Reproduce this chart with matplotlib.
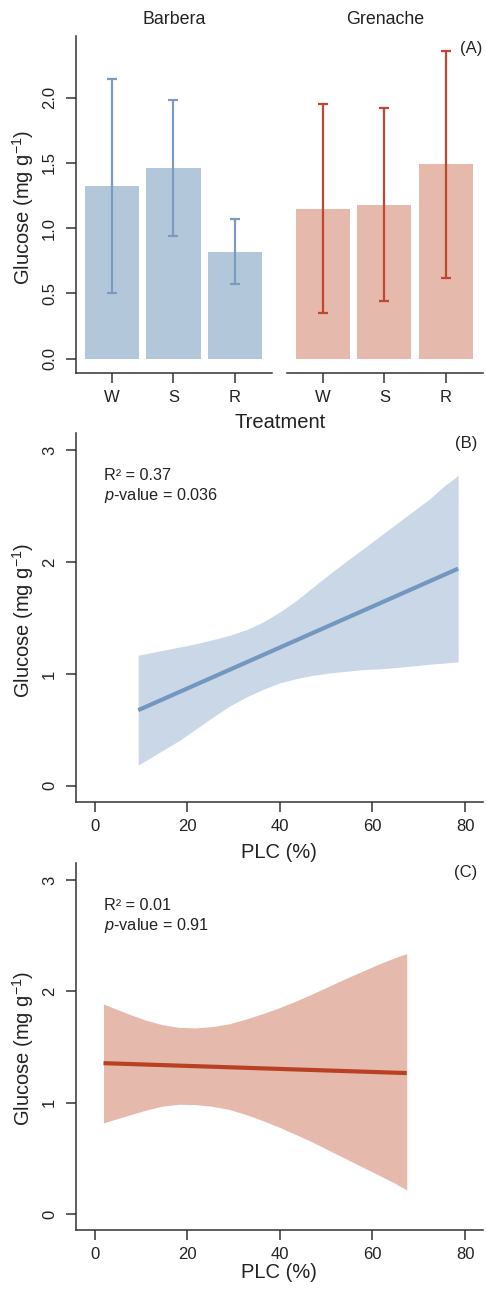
import matplotlib
matplotlib.use("Agg")
import matplotlib.pyplot as plt

plt.rcParams['font.family'] = ['Liberation Sans', 'DejaVu Sans']
plt.rcParams['mathtext.fontset'] = 'custom'
plt.rcParams['mathtext.rm'] = 'Liberation Sans'
plt.rcParams['mathtext.it'] = 'Liberation Sans:italic'

# ---------------- data ----------------
treatments = ["W", "S", "R"]
cultivars = ["Barbera", "Grenache"]
barbera_mean = [1.32, 1.46, 0.82]
barbera_err = [0.82, 0.52, 0.25]
grenache_mean = [1.15, 1.18, 1.49]
grenache_err = [0.80, 0.74, 0.87]

# panel B (Barbera): fitted line and confidence band
b_line_plc = [9.4, 78.5]
b_line_glu = [0.676, 1.941]
b_band_plc = [9.4, 14.8, 18.4, 22.0, 25.6, 29.2, 32.8, 36.4, 40.0, 43.6, 47.2,
              50.8, 54.4, 58.0, 61.6, 65.2, 68.8, 72.4, 75.5, 78.5]
b_band_upper = [1.167, 1.212, 1.241, 1.271, 1.307, 1.346, 1.396, 1.465, 1.554, 1.658, 1.777,
                1.896, 2.009, 2.119, 2.231, 2.343, 2.455, 2.566, 2.680, 2.774]
b_band_lower = [0.185, 0.319, 0.408, 0.512, 0.616, 0.714, 0.795, 0.863, 0.920, 0.959, 0.988,
                1.009, 1.024, 1.039, 1.046, 1.057, 1.072, 1.087, 1.097, 1.107]
b_stats = ["R\u00b2 = 0.37", "$\\mathit{p}$-value = 0.036"]

# panel C (Grenache)
c_line_plc = [1.9, 67.4]
c_line_glu = [1.356, 1.267]
c_band_plc = [1.9, 7.3, 10.9, 14.5, 18.1, 21.7, 25.3, 28.9, 32.5, 36.1, 39.7,
              43.3, 46.9, 50.5, 54.1, 57.7, 61.3, 64.9, 67.4]
c_band_upper = [1.887, 1.798, 1.744, 1.702, 1.678, 1.672, 1.684, 1.708, 1.750, 1.798, 1.851,
                1.911, 1.976, 2.045, 2.114, 2.179, 2.245, 2.304, 2.340]
c_band_lower = [0.820, 0.888, 0.933, 0.969, 0.987, 0.984, 0.969, 0.942, 0.897, 0.843, 0.784,
                0.718, 0.650, 0.575, 0.501, 0.426, 0.352, 0.277, 0.217]
c_stats = ["R\u00b2 = 0.01", "$\\mathit{p}$-value = 0.91"]

bar_yticks = [0.0, 0.5, 1.0, 1.5, 2.0]
reg_yticks = [0, 1, 2, 3]
reg_xticks = [0, 20, 40, 60, 80]

# ---------------- style ----------------
W, H = 486, 1292
BLUE_BAR = "#b3c7da"
BLUE_ERR = "#7a9cc0"
BLUE_BAND = "#c9d7e6"
BLUE_LINE = "#7298c0"
RED_BAR = "#e5b9ab"
RED_ERR = "#c0472d"
RED_BAND = "#e5b9ac"
RED_LINE = "#b94022"
AX_COL = "#333333"
TXT = "#222222"

fig = plt.figure(figsize=(W / 100, H / 100), dpi=100)


def box(x0, y0, x1, y1):
    return [x0 / W, 1 - y1 / H, (x1 - x0) / W, (y1 - y0) / H]


def style_axes(ax, left=True):
    for s in ["top", "right"]:
        ax.spines[s].set_visible(False)
    ax.spines["bottom"].set_color(AX_COL)
    ax.spines["bottom"].set_linewidth(1.1)
    if left:
        ax.spines["left"].set_color(AX_COL)
        ax.spines["left"].set_linewidth(1.1)
    else:
        ax.spines["left"].set_visible(False)
    ax.tick_params(direction="out", length=7.5, width=1.1, color=AX_COL,
                   labelcolor=TXT, labelsize=12)


# ---------------- panel A ----------------
pos = [1, 2, 3]
ylimA = (-0.112, 2.473)
xlimA = (0.415, 3.597)
axA1 = fig.add_axes(box(76, 36, 271.7, 373.3))
axA2 = fig.add_axes(box(286.7, 36, 482.7, 373.3))
for ax, means, errs, bc, ec, name in [
    (axA1, barbera_mean, barbera_err, BLUE_BAR, BLUE_ERR, cultivars[0]),
    (axA2, grenache_mean, grenache_err, RED_BAR, RED_ERR, cultivars[1]),
]:
    ax.bar(pos, means, width=0.88, color=bc, edgecolor="none", zorder=1)
    ax.errorbar(pos, means, yerr=errs, fmt="none", ecolor=ec, elinewidth=1.6,
                capsize=3.5, capthick=1.6, zorder=2)
    ax.set_xlim(*xlimA)
    ax.set_ylim(*ylimA)
    ax.set_xticks(pos)
    ax.set_xticklabels(treatments)
    ax.set_title(name, fontsize=12.8, color=TXT, pad=8.4)

style_axes(axA1, left=True)
style_axes(axA2, left=False)
axA1.tick_params(axis="x", pad=4.5)
axA2.tick_params(axis="x", pad=4.5)
axA1.set_yticks(bar_yticks)
axA1.set_yticklabels([f"{v:.1f}" for v in bar_yticks], rotation=90, ha="center", va="center")
axA1.tick_params(axis="y", pad=11.5)
axA2.set_yticks([])
axA2.text(1.0, ylimA[1] - 0.035, "(A)", ha="right", va="top", fontsize=12, color=TXT,
          transform=axA2.get_yaxis_transform())

fig.text(280 / W, 1 - 423 / H, "Treatment", ha="center", va="center", fontsize=14.5, color=TXT)
fig.text(23.5 / W, 1 - 207.5 / H, "Glucose (mg g$^{-1}$)", rotation=90, ha="center", va="center",
         fontsize=14.5, color=TXT)

# ---------------- panels B and C ----------------
xlimR = (-4.04, 83.87)
ylimR = (-0.142, 3.156)
panels = [
    (box(76, 432.7, 483, 801.7), b_band_plc, b_band_lower, b_band_upper, b_line_plc, b_line_glu,
     BLUE_BAND, BLUE_LINE, b_stats, "(B)", 853, 620),
    (box(76, 862.7, 483, 1230), c_band_plc, c_band_lower, c_band_upper, c_line_plc, c_line_glu,
     RED_BAND, RED_LINE, c_stats, "(C)", 1273, 1048),
]
for (bx, bpx, blo, bup, lx, ly, bandc, linec, stats, tag, xl_y, yl_y) in panels:
    ax = fig.add_axes(bx)
    ax.fill_between(bpx, blo, bup, color=bandc, linewidth=0, zorder=1)
    ax.plot(lx, ly, color=linec, linewidth=3.0, solid_capstyle="butt", zorder=2)
    ax.set_xlim(*xlimR)
    ax.set_ylim(*ylimR)
    style_axes(ax)
    ax.set_xticks(reg_xticks)
    ax.set_xticklabels([str(v) for v in reg_xticks])
    ax.tick_params(axis="x", pad=5)
    ax.set_yticks(reg_yticks)
    ax.set_yticklabels([str(v) for v in reg_yticks], rotation=90, ha="center", va="center")
    ax.tick_params(axis="y", pad=11.5)
    ax.text(0.068, 0.883, stats[0], transform=ax.transAxes, ha="left", va="center",
            fontsize=11.7, color=TXT)
    ax.text(0.068, 0.829, stats[1], transform=ax.transAxes, ha="left", va="center",
            fontsize=11.7, color=TXT)
    ax.text(0.985, 0.972, tag, transform=ax.transAxes, ha="right", va="center",
            fontsize=12, color=TXT)
    fig.text(279 / W, 1 - xl_y / H, "PLC (%)", ha="center", va="center", fontsize=14.5, color=TXT)
    fig.text(23.5 / W, 1 - yl_y / H, "Glucose (mg g$^{-1}$)", rotation=90, ha="center",
             va="center", fontsize=14.5, color=TXT)

fig.savefig("out.png", dpi=100, facecolor="white")
